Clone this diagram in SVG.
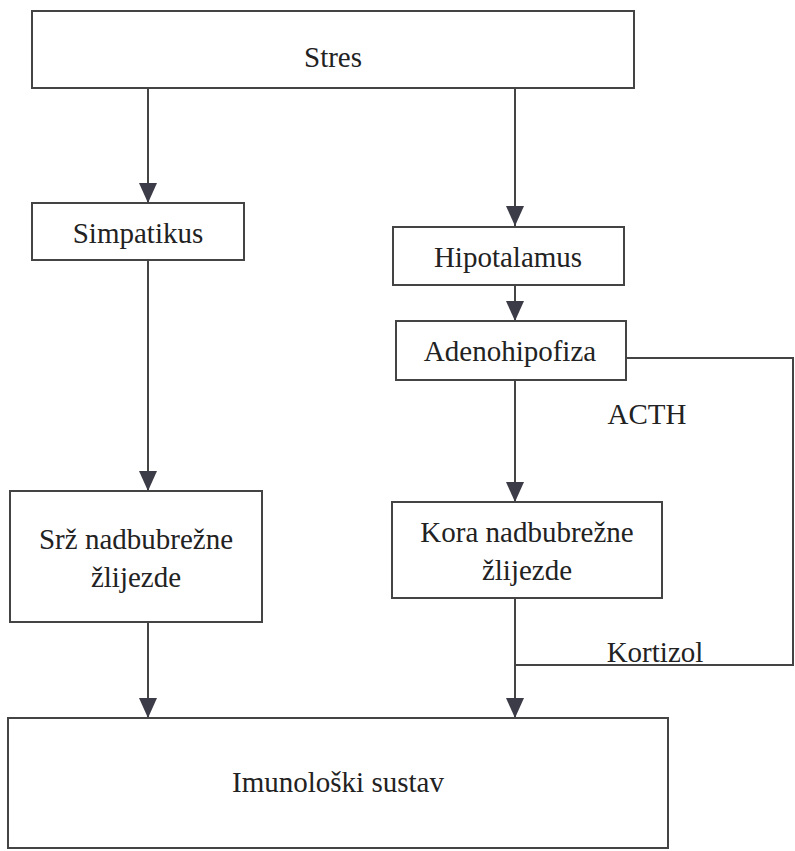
<svg xmlns="http://www.w3.org/2000/svg" width="795" height="851" viewBox="0 0 795 851">
<defs>
<style>
.box{fill:#fff;stroke:#444;stroke-width:2}
.t{font-size:29px;fill:#222;text-anchor:middle}
.c{fill:none;stroke:#444;stroke-width:2}
</style>
<marker id="a" viewBox="0 0 20 18" refX="20" refY="9" markerWidth="20" markerHeight="18" markerUnits="userSpaceOnUse" orient="auto">
<path d="M0,0 L20,9 L0,18 z" fill="#3c3c48"/>
</marker>
</defs>
<rect width="795" height="851" fill="#fff"/>
<g id="connectors">
<path class="c" d="M148,88 V203" marker-end="url(#a)"/>
<path class="c" d="M515,88 V226" marker-end="url(#a)"/>
<path class="c" d="M515,285 V321" marker-end="url(#a)"/>
<path class="c" d="M515,380 V502" marker-end="url(#a)"/>
<path class="c" d="M148,260 V491" marker-end="url(#a)"/>
<path class="c" d="M148,622 V718" marker-end="url(#a)"/>
<path class="c" d="M515,598 V718" marker-end="url(#a)"/>
<path class="c" d="M626,358 H793 V665 H515"/>
<text class="t" x="647" y="424" font-family="Liberation Serif">ACTH</text>
<text class="t" x="655" y="662" font-family="Liberation Serif">Kortizol</text>
</g>
<g id="stres">
<rect class="box" x="32" y="11" width="602" height="77"/>
<text class="t" x="333" y="67" font-family="Liberation Serif">Stres</text>
</g>
<g id="simpatikus">
<rect class="box" x="32" y="203" width="212" height="57"/>
<text class="t" x="138" y="243" font-family="Liberation Serif">Simpatikus</text>
</g>
<g id="hipotalamus">
<rect class="box" x="393" y="227" width="231" height="58"/>
<text class="t" x="508" y="267" font-family="Liberation Serif">Hipotalamus</text>
</g>
<g id="adenohipofiza">
<rect class="box" x="396" y="321" width="230" height="59"/>
<text class="t" x="510" y="361" font-family="Liberation Serif">Adenohipofiza</text>
</g>
<g id="srz">
<rect class="box" x="10" y="491" width="252" height="131"/>
<text class="t" x="136" y="549" font-family="Liberation Serif">Srž nadbubrežne</text>
<text class="t" x="136" y="587" font-family="Liberation Serif">žlijezde</text>
</g>
<g id="kora">
<rect class="box" x="392" y="502" width="270" height="96"/>
<text class="t" x="527" y="542" font-family="Liberation Serif">Kora nadbubrežne</text>
<text class="t" x="527" y="580" font-family="Liberation Serif">žlijezde</text>
</g>
<g id="imunoloski">
<rect class="box" x="8" y="718" width="660" height="130"/>
<text class="t" x="338" y="792" font-family="Liberation Serif">Imunološki sustav</text>
</g>
</svg>
